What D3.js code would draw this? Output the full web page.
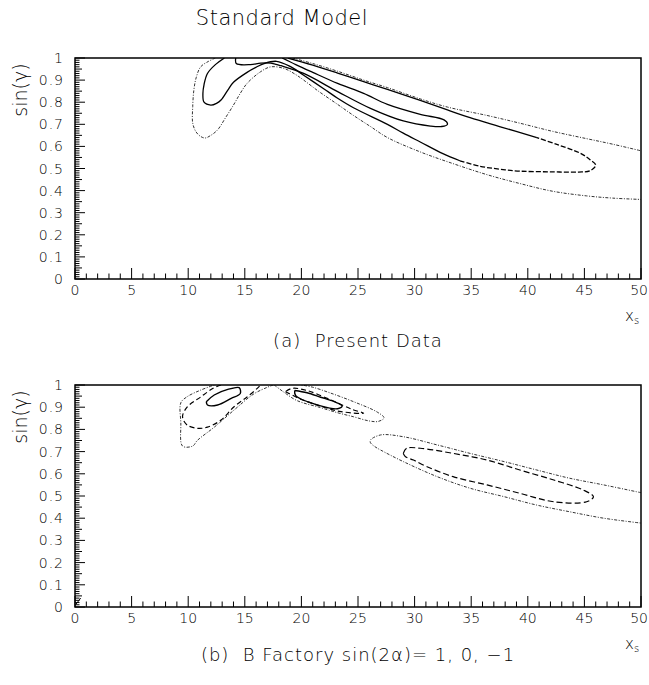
<!DOCTYPE html>
<html><head><meta charset="utf-8">
<script src="https://cdn.jsdelivr.net/npm/d3@7"></script>
<style>
body{margin:0;background:#fff;}
text{font-family:"DejaVu Sans",sans-serif;font-weight:200;fill:#000;}
</style></head>
<body><svg id="c" width="649" height="685"></svg>
<script>
// ---- data (x_s, sin(gamma)) ----
const xTicks = [0,5,10,15,20,25,30,35,40,45,50];
const yTicks = [0,0.1,0.2,0.3,0.4,0.5,0.6,0.7,0.8,0.9,1];
const yTickLabels = ["0","0.1","0.2","0.3","0.4","0.5","0.6","0.7","0.8","0.9","1"];

// panel (a) Present Data
const aOuterLower = [[12.4,1.0],[11.8,0.985],[11.1,0.96],[10.7,0.91],[10.5,0.855],[10.4,0.78],[10.4,0.705],[10.7,0.665],[11.1,0.645],[11.5,0.638],[12.0,0.65],[12.6,0.675],[13.3,0.73],[14.0,0.787],[14.6,0.84],[15.2,0.885],[16.4,0.938],[17.3,0.96],[18.5,0.952],[19.5,0.925],[20.2,0.9],[21.5,0.85],[23.2,0.79],[24.6,0.74],[26.1,0.69],[27.6,0.64],[30.5,0.575],[33.4,0.522],[36.4,0.472],[39.3,0.432],[42.2,0.397],[45.2,0.376],[47.5,0.366],[50,0.36]];
const aOuterUpper = [[19.2,1.0],[21.0,0.975],[23.2,0.94],[25.5,0.9],[27.6,0.866],[30.5,0.815],[32.9,0.778],[36.4,0.74],[39.3,0.705],[42.2,0.668],[45.2,0.635],[47.5,0.61],[50,0.58]];
const aMidLeft = [[13.2,1.0],[12.4,0.97],[11.7,0.93],[11.4,0.88],[11.3,0.84],[11.4,0.80],[12.0,0.787],[12.5,0.795],[12.9,0.81],[13.5,0.855],[14.0,0.89],[15.2,0.935],[16.0,0.958],[16.7,0.975],[17.8,0.985],[19.0,0.962],[20.2,0.922],[22.0,0.86],[23.2,0.818],[24.6,0.775],[27.6,0.70],[29.0,0.66],[30.5,0.62],[32.5,0.567],[34.0,0.535]];
const aMidTip = [[34.0,0.535],[35.8,0.51],[37.5,0.497],[39.3,0.488],[42.0,0.485],[44.5,0.484],[45.5,0.49],[46.0,0.515],[45.5,0.54],[44.6,0.57],[42.5,0.61],[40.8,0.64]];
const aMidUpper = [[40.8,0.64],[37.5,0.69],[34.9,0.73],[32.9,0.765],[30.5,0.808],[27.6,0.858],[25.5,0.893],[23.2,0.932],[21.0,0.968],[18.8,1.0]];
const aInner = [[14.2,1.0],[14.25,0.975],[15.5,0.97],[16.4,0.977],[17.3,0.977],[18.2,0.965],[20.2,0.93],[23.2,0.848],[26.1,0.772],[29.0,0.715],[31.4,0.692],[32.4,0.69],[32.9,0.70],[32.6,0.72],[30.5,0.745],[27.6,0.79],[25.5,0.84],[23.2,0.885],[21.0,0.935],[19.5,0.97],[18.3,1.0]];

// panel (b) B Factory
const bOuterLeft = [[17.5,1.0],[17.0,0.99],[15.8,0.96],[14.0,0.885],[12.3,0.81],[10.8,0.75],[10.4,0.725],[9.5,0.725],[9.35,0.83],[9.35,0.92],[9.9,0.947],[11.1,0.977],[12.3,1.0]];
const bMidLeft = [[12.9,1.0],[12.2,0.985],[11.1,0.946],[9.9,0.9],[9.5,0.857],[9.9,0.82],[10.8,0.805],[11.7,0.81],[12.9,0.842],[14.05,0.902],[15.2,0.946],[16.1,0.985],[16.4,1.0]];
const bInnerLeft = [[11.6,0.925],[12.3,0.955],[13.5,0.98],[14.5,0.988],[14.6,0.962],[13.8,0.94],[12.6,0.91],[11.7,0.91],[11.6,0.925]];
const bOuterMid = [[17.6,1.0],[18.5,0.966],[19.6,0.93],[21.7,0.898],[23.2,0.875],[24.6,0.857],[26.0,0.838],[26.8,0.836],[27.3,0.852],[26.7,0.878],[24.6,0.925],[22.5,0.965],[21.0,0.99],[20.0,1.0]];
const bMidMid = [[18.6,0.97],[20.0,0.935],[22.0,0.9],[23.5,0.88],[25.5,0.873],[24.5,0.89],[22.5,0.935],[20.5,0.975],[19.2,0.985],[18.6,0.97]];
const bInnerMid = [[19.4,0.975],[19.5,0.952],[21.7,0.906],[23.2,0.893],[23.6,0.905],[22.9,0.925],[21.7,0.945],[20.5,0.965],[19.4,0.975]];
const bOuterRight = [[50,0.515],[46.7,0.55],[43.7,0.58],[40.8,0.617],[37.9,0.655],[34.9,0.692],[32.0,0.73],[29.0,0.767],[27.0,0.775],[26.1,0.752],[26.1,0.74],[26.5,0.722],[27.0,0.707],[29.0,0.655],[32.0,0.587],[34.9,0.535],[37.9,0.497],[40.8,0.459],[43.7,0.429],[46.7,0.40],[50,0.378]];
const bMidRight = [[29.0,0.692],[29.3,0.715],[30.5,0.715],[33.4,0.692],[36.4,0.662],[39.3,0.617],[42.3,0.572],[44.9,0.527],[45.8,0.497],[45.2,0.474],[42.3,0.474],[39.3,0.512],[36.4,0.55],[33.4,0.587],[31.1,0.632],[29.9,0.662],[29.2,0.677],[29.0,0.692]];
const bCorner = [[0.05,0.01],[0.5,0.04]];

// ---- drawing ----
const svg = d3.select("#c");
const X0 = 75, X1 = 641, W = 649;

svg.append("text").attr("x",282).attr("y",25).attr("text-anchor","middle")
  .style("font-size","21px").style("letter-spacing","0.5px").text("Standard Model");

function panel(id, top, bottom, series, caption, capY){
  const x = d3.scaleLinear().domain([0,50]).range([X0,X1]);
  const y = d3.scaleLinear().domain([0,1]).range([bottom,top]);
  const g = svg.append("g");
  g.append("clipPath").attr("id","clip"+id).append("rect")
    .attr("x",X0).attr("y",top).attr("width",X1-X0).attr("height",bottom-top);
  const line = d3.line().x(d=>x(d[0])).y(d=>y(d[1])).curve(d3.curveCatmullRom.alpha(0.5));
  const cg = g.append("g").attr("clip-path","url(#clip"+id+")");
  series.forEach(s=>{
    cg.append("path").datum(s.data).attr("d",line).attr("fill","none")
      .attr("stroke",s.color||"#000").attr("stroke-width",s.w)
      .attr("stroke-dasharray",s.dash||null);
  });
  // ticks (inside)
  const tg = g.append("g");
  d3.range(0,51,1).forEach(v=>{
    const L = (v%5===0)?11:5.5;
    tg.append("line").attr("x1",x(v)).attr("x2",x(v)).attr("y1",bottom).attr("y2",bottom-L)
      .attr("stroke","#000").attr("stroke-width",1);
  });
  d3.range(0,101,1).forEach(i=>{
    const v=i/100;
    const L = (i%10===0)?10:((i%5===0)?7:4.5);
    tg.append("line").attr("x1",X0).attr("x2",X0+L).attr("y1",y(v)).attr("y2",y(v))
      .attr("stroke","#000").attr("stroke-width",1);
  });
  // frame
  g.append("rect").attr("x",X0).attr("y",top).attr("width",X1-X0).attr("height",bottom-top)
    .attr("fill","none").attr("stroke","#000").attr("stroke-width",1.5);
  // tick labels
  xTicks.forEach(v=>{
    const t = g.append("text").attr("x",x(v)).attr("y",bottom+16).attr("text-anchor","middle")
      .style("font-size","14px").text(v);
    const wdt = t.node().getComputedTextLength();
    const over = x(v) + wdt/2 - (W-1);
    if (over > 0) t.attr("x", x(v) - over);
  });
  yTicks.forEach((v,i)=>{
    g.append("text").attr("x",64).attr("y",y(v)+5).attr("text-anchor","end")
      .style("font-size","14px").style("letter-spacing","1px").text(yTickLabels[i]);
  });
  // axis titles
  g.append("text").attr("transform",`translate(27,${top+32}) rotate(-90)`)
    .attr("text-anchor","middle").style("font-size","19px").text("sin(γ)");
  const xl = g.append("text").attr("x",625).attr("y",bottom+42).style("font-size","15px");
  xl.append("tspan").text("x");
  xl.append("tspan").attr("dy",3).style("font-size","10px").text("s");
  g.append("text").attr("x",358).attr("y",capY).attr("text-anchor","middle")
    .style("font-size","18px").style("letter-spacing","1px").attr("xml:space","preserve").text(caption);
}

const OUT = {w:1, dash:"3,1.5,1,1.5", color:"#333"};
panel("a", 58, 279, [
  {data:aOuterLower, ...OUT},
  {data:aOuterUpper, ...OUT},
  {data:aMidLeft, w:1.3},
  {data:aMidTip, w:1.3, dash:"5,2"},
  {data:aMidUpper, w:1.3},
  {data:aInner, w:1.3}
], "(a)  Present Data", 347);

panel("b", 385, 607, [
  {data:bOuterLeft, ...OUT},
  {data:bOuterMid, ...OUT},
  {data:bOuterRight, ...OUT},
  {data:bMidLeft, w:1.2, dash:"5,3"},
  {data:bMidMid, w:1.2, dash:"5,3"},
  {data:bMidRight, w:1.2, dash:"6,3"},
  {data:bInnerLeft, w:1.4},
  {data:bInnerMid, w:1.4},
  {data:bCorner, w:1}
], "(b)  B Factory sin(2α)= 1, 0, −1", 661);
</script></body></html>
